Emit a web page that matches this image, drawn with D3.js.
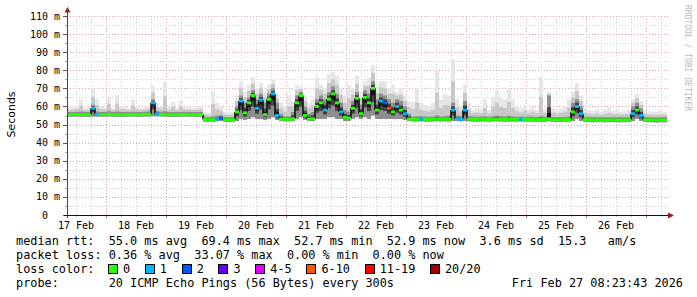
<!DOCTYPE html>
<html>
<head>
<meta charset="utf-8">
<title>smokeping</title>
<script src="https://cdnjs.cloudflare.com/ajax/libs/d3/7.8.5/d3.min.js"></script>
<style>
  body { margin: 0; background: #fff; }
  svg { display: block; }
  text { font-family: "DejaVu Sans Mono", monospace; white-space: pre; }
</style>
</head>
<body>
<script>
// 10 days of data, one bin every 96 minutes
const startTime = Date.UTC(2026, 1, 17, 8, 23, 43);
const endTime = Date.UTC(2026, 1, 27, 8, 23, 43);
const stepMs = 5760 * 1000;

// median rtt (ms) per bin
const median = [
  55.5,55.5,55.6,55.5,55.5,55.4,59,55.6,55.5,55.5,
  55.6,55.5,55.5,55.4,55.5,55.5,55.6,55.5,55.5,55.6,
  55.7,62,55.8,55.6,55.5,55.5,55.4,55.5,55.5,55.6,
  55.5,55.5,55.4,55.5,52.8,52.6,52.7,53.2,53.5,52.7,
  52.6,52.7,57,63,56.5,62,66,59,63.5,55.5,
  64,67,55,53,52.9,52.9,53.2,62,66,55,
  53,53.2,60,62,58,64,67,62,57,54,
  53.5,59,64.5,56,65,62,70,58,63,62,
  59,57,60,58,56,53,52.9,52.9,53,52.9,
  52.8,52.9,53,52.9,53,52.9,58,53.1,53,58,
  53,52.9,52.8,52.9,52.9,52.8,52.9,53,52.9,52.8,
  52.9,52.9,52.8,52.9,52.8,52.9,52.8,52.7,52.8,52.8,
  53.2,52.7,52.6,52.6,52.7,52.8,57,60,56,52.8,
  52.6,52.5,52.6,52.6,52.5,52.6,52.6,52.5,52.5,52.6,
  52.6,56,58,55,52.6,52.5,52.5,52.4,52.5,52.5
];
// lowest ping of the smoke
const smokeLow = [
  54.3,54.3,54.4,54.3,54.3,54.2,54.4,54.4,54.3,54.3,
  54.4,54.3,54.3,54.2,54.3,54.3,54.4,54.3,54.3,54.4,
  54.5,54.6,54.6,54.4,54.3,54.3,54.2,54.3,54.3,54.4,
  54.3,54.3,54.2,54.3,51.6,51.4,51.5,51.8,52,51.5,
  51.4,51.5,52,53,52.5,53,54,53,53,52.5,
  53,54,52.5,52,51.8,51.8,52,53,54,52.5,
  52,52,53,53,53,54,54,53,53,52,
  52,53,54,53,54,53,55,53,53,53,
  53,53,53,53,52.5,52,51.7,51.7,51.8,51.7,
  51.6,51.7,51.8,51.7,51.8,51.7,52,51.9,51.8,52,
  51.8,51.7,51.6,51.7,51.7,51.6,51.7,51.8,51.7,51.6,
  51.7,51.7,51.6,51.7,51.6,51.7,51.6,51.5,51.6,51.6,
  52,51.5,51.4,51.4,51.5,51.6,52,53,52,51.6,
  51.4,51.3,51.4,51.4,51.3,51.4,51.4,51.3,51.3,51.4,
  51.4,52,53,52,51.4,51.3,51.3,51.2,51.3,51.3
];
// top of the dense smoke
const smokeDark = [
  57,57,57.1,57.2,57,56.9,61,57.2,57,57,
  57.3,57,57.2,56.9,57,57,57.1,57,57,57.1,
  57.2,64,57.5,57.1,57.3,57,56.9,57,57,57.1,
  57,57,56.9,57,54.3,54.1,54.5,55,55.2,54.2,
  54.1,54.2,60,66,62,65,69,64,67,62,
  67,70,62,56,54.5,54.5,57,66,68,60,
  56,57,64,66,64,68,71,67,62,58,
  57,63,68,61,69,67,74,64,67,66,
  64,62,64,63,60,56,54.4,54.5,54.6,54.4,
  54.3,54.4,55,54.4,54.6,55,62,55,54.6,63,
  54.6,54.4,54.3,54.4,54.5,54.3,54.6,55,54.6,54.4,
  54.8,54.4,54.3,54.4,54.3,54.4,54.3,54.2,54.6,54.3,
  66,54.2,54.1,54.1,54.2,54.5,62,64,60,54.3,
  54.1,54,54.1,54.1,54,54.1,54.1,54,54,54.1,
  54.1,60,62,59,54.1,54,54,53.9,54,54
];
// highest ping of the smoke
const smokeTop = [
  59,59.5,60,63.6,59,59.5,69.7,64,60,59.5,
  65.4,59,66,60,59.5,59,63.6,60,59,59.5,
  60,71.3,62,60,73.7,59.5,62.5,59,63,59.5,
  60,59,59.5,60,57,56.5,68,62,60,57,
  56.5,57,66,74,68,72,76,70,73,68,
  72,75,67,62,60,66,63,72,71,66,
  62,64,76,72,70,78,79,77,70,66,
  72,70,77,68,74,76,83,71,74,74,
  70,72,68,70,66,63,62.6,70,62,61,
  60,62,80,64,67,66,86,64,60,72,
  62,58,59,58.5,64,58,65,69,65,64,
  70,64,60,59,61,58.5,60,58,76,58.5,
  68,59,58,59,60,64,68,73,66,59,
  58,57.5,58,57,58,59,57.5,58,57,57.5,
  58,64,67,63,58,57.5,57,57,57.5,57
];
// [bin, lost pings of 20]; every other bin lost nothing
const lossEvents = [
  [6,1],[7,1],[21,1],[22,1],[37,1],[38,2],[43,1],[47,1],[48,1],[51,1],[52,1],
  [64,1],[68,1],[78,1],[79,2],[80,7],[82,1],[84,1],[88,1],[96,1],[97,1],[98,1],
  [99,1],[113,1],[127,1],[128,1],[141,1],[143,1]
];

const yTicks = [0,10,20,30,40,50,60,70,80,90,100,110];
const dayLabels = ["17 Feb","18 Feb","19 Feb","20 Feb","21 Feb","22 Feb","23 Feb","24 Feb","25 Feb","26 Feb"];
const lossLabels = ["0","1","2","3","4-5","6-10","11-19","20/20"];
const lossColors = ["#26ff00","#00b8ff","#0059ff","#5e00ff","#e000ff","#ff5500","#ff0000","#a10000"];
const statLines = [
  "median rtt:  55.0 ms avg  69.4 ms max  52.7 ms min  52.9 ms now  3.6 ms sd  15.3   am/s",
  "packet loss: 0.36 % avg  33.07 % max  0.00 % min  0.00 % now"
];
const probeText = "probe:       20 ICMP Echo Pings (56 Bytes) every 300s";
const stampText = "Fri Feb 27 08:23:43 2026";

const svg = d3.select("body").append("svg").attr("width", 697).attr("height", 297);
svg.append("rect").attr("width", 697).attr("height", 297).attr("fill", "#fff");

const x = d3.scaleUtc().domain([startTime, endTime]).range([67, 667]);
const y = d3.scaleLinear().domain([0, 110]).range([215, 16]);

const lossOf = new Map(lossEvents);
function bucket(n) {
  if (n <= 3) return n;
  if (n <= 5) return 4;
  if (n <= 10) return 5;
  if (n <= 19) return 6;
  return 7;
}

const pts = median.map((m, i) => ({
  t: startTime + i * stepMs, m: m,
  lo: smokeLow[i], dk: smokeDark[i], top: smokeTop[i],
  loss: lossOf.get(i) || 0
}));
const last = pts[pts.length - 1];
const ptsEnd = pts.concat([Object.assign({}, last, {t: startTime + pts.length * stepMs})]);

// grid
const grid = svg.append("g").attr("shape-rendering", "crispEdges");
const minorT = d3.utcHour.every(6).range(new Date(startTime), new Date(endTime));
const majorT = d3.utcDay.range(new Date(startTime), new Date(endTime));
grid.selectAll(".vmin").data(minorT).enter().append("line")
  .attr("x1", d => Math.round(x(d)) + 0.5).attr("x2", d => Math.round(x(d)) + 0.5)
  .attr("y1", 215).attr("y2", 15)
  .attr("stroke", "#cfcfcf").attr("stroke-dasharray", "1,2");
grid.selectAll(".hmin").data(d3.range(5, 111, 5)).enter().append("line")
  .attr("x1", 67).attr("x2", 668)
  .attr("y1", d => Math.round(y(d)) + 0.5).attr("y2", d => Math.round(y(d)) + 0.5)
  .attr("stroke", "#cfcfcf").attr("stroke-dasharray", "1,2");
grid.selectAll(".vmaj").data(majorT).enter().append("line")
  .attr("x1", d => Math.round(x(d)) + 0.5).attr("x2", d => Math.round(x(d)) + 0.5)
  .attr("y1", 215).attr("y2", 15)
  .attr("stroke", "#e6a0a0").attr("stroke-dasharray", "1,2");
grid.selectAll(".hmaj").data(yTicks.slice(1)).enter().append("line")
  .attr("x1", 67).attr("x2", 668)
  .attr("y1", d => Math.round(y(d)) + 0.5).attr("y2", d => Math.round(y(d)) + 0.5)
  .attr("stroke", "#e6a0a0").attr("stroke-dasharray", "1,2");

// smoke: nested bands, lighter outside, darker toward the median
const band = (lo, hi) => d3.area().curve(d3.curveStepAfter)
  .x(d => x(d.t)).y0(d => y(lo(d))).y1(d => y(hi(d)));
const smokeLayers = [
  {fill: "#e6e6e6", lo: d => d.lo, hi: d => d.top},
  {fill: "#c8c8c8", lo: d => d.lo, hi: d => (d.dk + d.top) / 2},
  {fill: "#8e8e8e", lo: d => d.lo, hi: d => d.dk},
  {fill: "#444444", lo: d => (d.lo + d.m) / 2, hi: d => (d.m + d.dk) / 2},
  {fill: "#151515", lo: d => (d.lo + 3 * d.m) / 4, hi: d => (3 * d.m + d.dk) / 4}
];
svg.selectAll(".smoke").data(smokeLayers).enter().append("path")
  .attr("d", l => band(l.lo, l.hi)(ptsEnd)).attr("fill", l => l.fill);

// median: vertical jumps in black, flat parts coloured by loss
svg.selectAll(".jump").data(pts.slice(1)).enter().append("line")
  .attr("x1", d => x(d.t)).attr("x2", d => x(d.t))
  .attr("y1", (d, i) => y(pts[i].m)).attr("y2", d => y(d.m))
  .attr("stroke", "#111").attr("stroke-width", 1.6);
svg.selectAll(".med").data(pts).enter().append("line")
  .attr("x1", d => x(d.t)).attr("x2", d => x(d.t + stepMs))
  .attr("y1", d => y(d.m)).attr("y2", d => y(d.m))
  .attr("stroke", d => lossColors[bucket(d.loss)]).attr("stroke-width", 3);

// axes
const axis = svg.append("g").attr("shape-rendering", "crispEdges");
axis.selectAll(".yt").data(d3.range(0, 111, 5)).enter().append("line")
  .attr("x1", d => d % 10 === 0 ? 63 : 65).attr("x2", 67)
  .attr("y1", d => Math.round(y(d)) + 0.5).attr("y2", d => Math.round(y(d)) + 0.5)
  .attr("stroke", d => d % 10 === 0 ? "#555" : "#aaa");
axis.selectAll(".xt").data(minorT).enter().append("line")
  .attr("x1", d => Math.round(x(d)) + 0.5).attr("x2", d => Math.round(x(d)) + 0.5)
  .attr("y1", 215).attr("y2", d => d.getUTCHours() === 0 ? 218 : 217)
  .attr("stroke", d => d.getUTCHours() === 0 ? "#c66" : "#bbb");
axis.append("line").attr("x1", 67.5).attr("x2", 67.5).attr("y1", 218).attr("y2", 12)
  .attr("stroke", "#444");
axis.append("line").attr("x1", 64).attr("x2", 669).attr("y1", 215.5).attr("y2", 215.5)
  .attr("stroke", "#111");
svg.append("path").attr("d", "M64.5,12.5 L67.5,7 L70.5,12.5 Z").attr("fill", "#9b1b1b");
svg.append("path").attr("d", "M668,212.5 L674,215.5 L668,218.5 Z").attr("fill", "#9b1b1b");

// tick labels
svg.selectAll(".yl").data(yTicks).enter().append("text")
  .attr("x", 60).attr("y", d => y(d)).attr("dy", "0.35em")
  .attr("text-anchor", "end").attr("font-size", "10px").attr("fill", "#000")
  .text(d => d === 0 ? "0  " : d + " m");
const noons = d3.utcDay.range(new Date(Date.UTC(2026, 1, 17)), new Date(Date.UTC(2026, 1, 27)))
  .map(d => d3.utcHour.offset(d, 12));
svg.selectAll(".xl").data(noons).enter().append("text")
  .attr("x", d => x(d)).attr("y", 228.5)
  .attr("text-anchor", "middle").attr("font-size", "10px").attr("fill", "#000")
  .text((d, i) => dayLabels[i]);

svg.append("text").attr("transform", "translate(14.5,114.5) rotate(-90)")
  .attr("text-anchor", "middle").style("font-family", "'DejaVu Sans', sans-serif")
  .attr("font-size", "11px").text("Seconds");

svg.append("text").attr("transform", "translate(685,5) rotate(90)")
  .attr("font-size", "8px").attr("fill", "#b8b8b8").text("RRDTOOL / TOBI OETIKER");

// legend block
const fs = "11.85px";
const charW = 7.13;
svg.selectAll(".stat").data(statLines).enter().append("text")
  .attr("x", 16).attr("y", (d, i) => 245 + i * 14).attr("font-size", fs).text(d => d);
svg.append("text").attr("x", 16).attr("y", 273).attr("font-size", fs).text("loss color:");
let lx = 123;
const legendX = lossLabels.map(l => { const p = lx; lx += l.length * charW + 29.7; return p; });
const leg = svg.selectAll(".leg").data(lossLabels).enter().append("g");
leg.append("rect").attr("x", (d, i) => Math.round(legendX[i]) - 14.5).attr("y", 264.5)
  .attr("width", 9).attr("height", 9)
  .attr("fill", (d, i) => lossColors[i]).attr("stroke", "#000");
leg.append("text").attr("x", (d, i) => legendX[i]).attr("y", 273).attr("font-size", fs).text(d => d);
svg.append("text").attr("x", 16).attr("y", 287).attr("font-size", fs).text(probeText);
svg.append("text").attr("x", 683).attr("y", 287).attr("text-anchor", "end")
  .attr("font-size", fs).text(stampText);
</script>
</body>
</html>
